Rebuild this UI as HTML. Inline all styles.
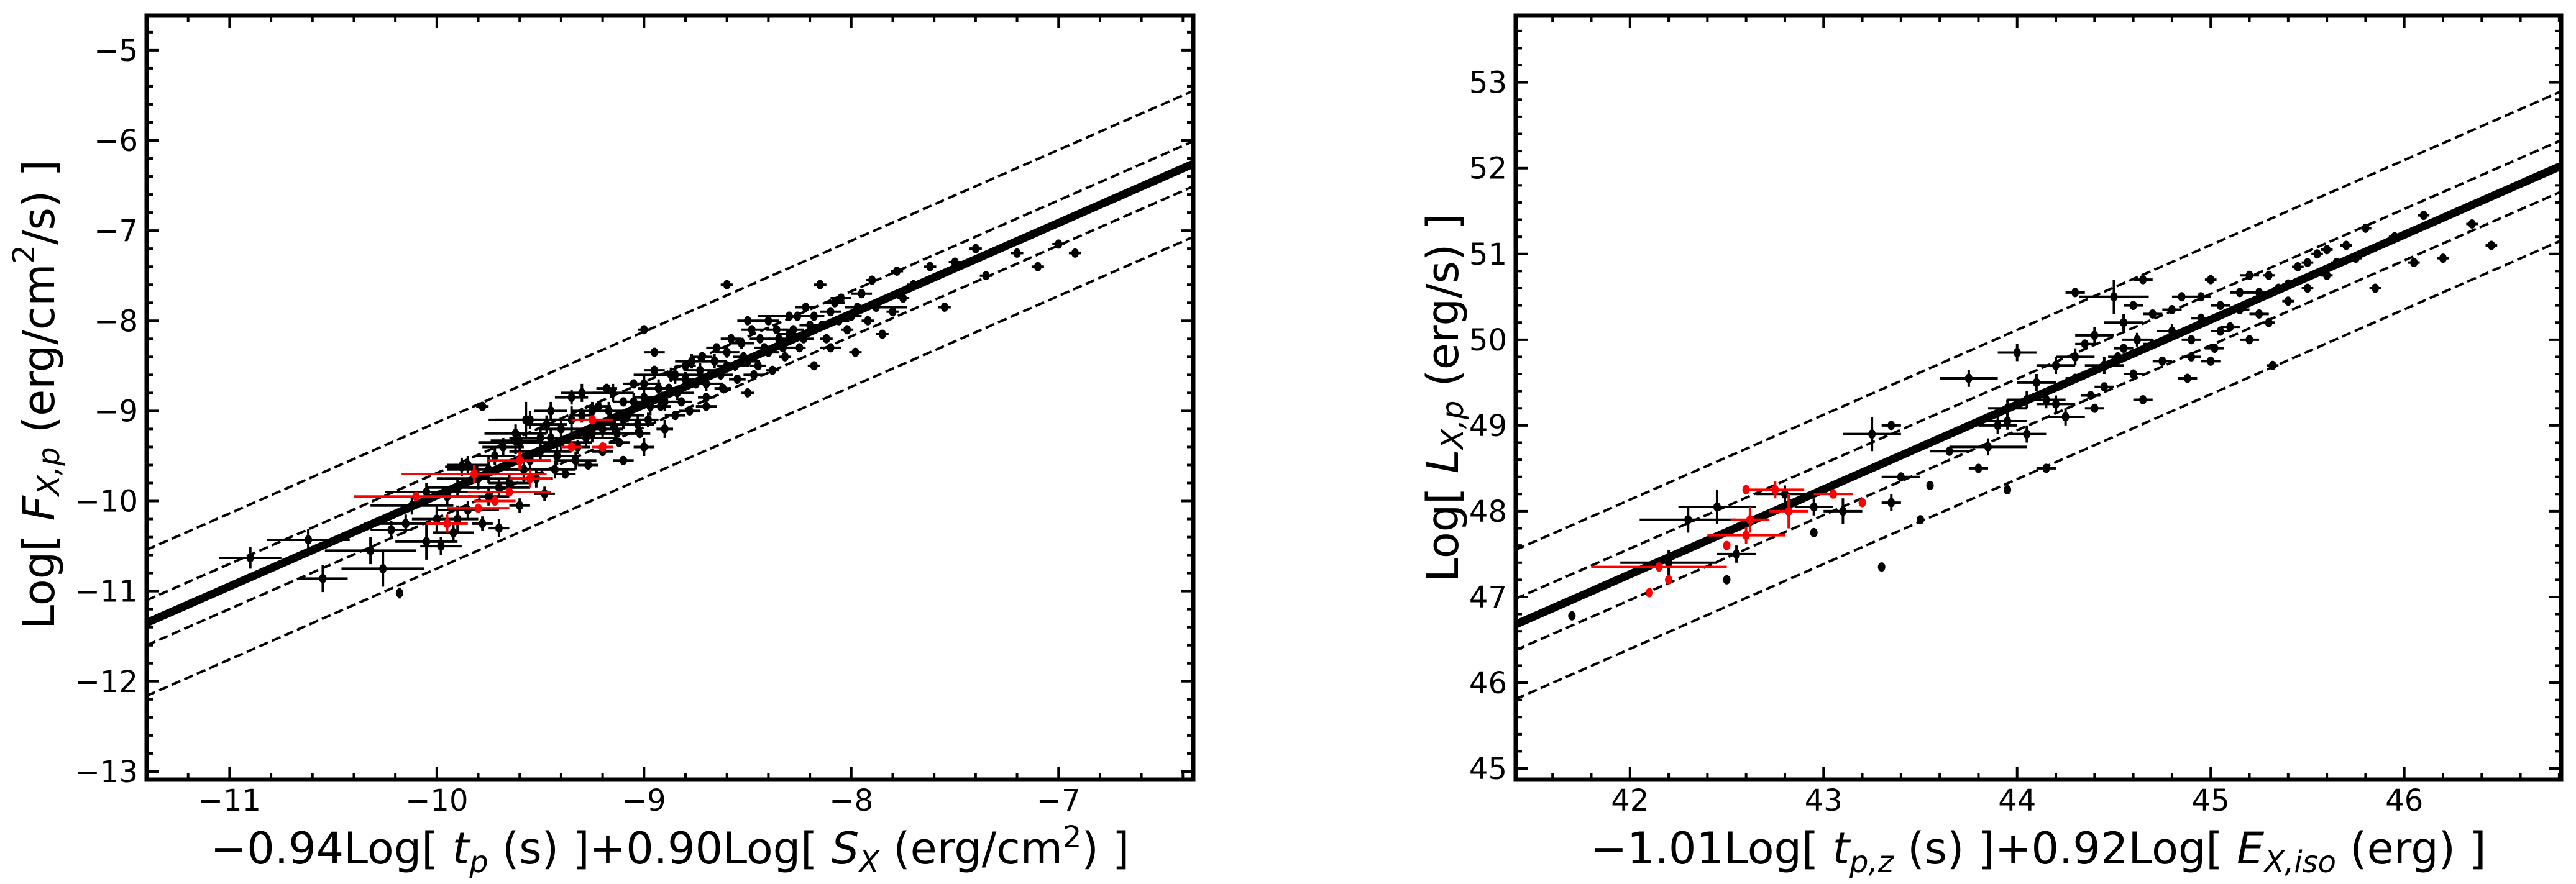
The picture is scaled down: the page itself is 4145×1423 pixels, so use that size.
<!DOCTYPE html>
<html><head><meta charset="utf-8"><style>
html,body{margin:0;padding:0;background:#fff;width:4145px;height:1423px;overflow:hidden}
svg{display:block}
text{font-family:"DejaVu Sans","Liberation Sans",sans-serif;fill:#000}
</style></head><body>
<svg id="fig" width="4145" height="1423" viewBox="0 0 4145 1423" xmlns="http://www.w3.org/2000/svg">
<g id="p1"></g>
<g id="p2"></g>
<text x="68" y="635" font-size="70" text-anchor="middle" transform="rotate(-90 68 635)" dominant-baseline="middle">Log[ <tspan font-style="italic">F</tspan><tspan font-style="italic" font-size="48" dy="14">X,p</tspan><tspan dy="-14"> (erg/cm</tspan><tspan font-size="48" dy="-26">2</tspan><tspan dy="26">/s) ]</tspan></text>
<text x="1078" y="1390" font-size="70" text-anchor="middle">−0.94Log[ <tspan font-style="italic">t</tspan><tspan font-style="italic" font-size="48" dy="14">p</tspan><tspan dy="-14"> (s) ]+0.90Log[ </tspan><tspan font-style="italic">S</tspan><tspan font-style="italic" font-size="48" dy="14">X</tspan><tspan dy="-14"> (erg/cm</tspan><tspan font-size="48" dy="-26">2</tspan><tspan dy="26">) ]</tspan></text>
<text x="2327" y="640" font-size="70" text-anchor="middle" transform="rotate(-90 2327 640)" dominant-baseline="middle">Log[ <tspan font-style="italic">L</tspan><tspan font-style="italic" font-size="48" dy="14">X,p</tspan><tspan dy="-14"> (erg/s) ]</tspan></text>
<text x="3280" y="1390" font-size="70" text-anchor="middle">−1.01Log[ <tspan font-style="italic">t</tspan><tspan font-style="italic" font-size="48" dy="14">p,z</tspan><tspan dy="-14"> (s) ]+0.92Log[ </tspan><tspan font-style="italic">E</tspan><tspan font-style="italic" font-size="48" dy="14">X,iso</tspan><tspan dy="-14"> (erg) ]</tspan></text>
</svg>
<script>
// ---- Left panel data ----
const leftBlackX=[-10.9,-10.62,-10.55,-10.32,-10.26,-10.18,-10.22,-10.12,-10.05,-10.0,-9.95,-9.92,-9.88,-9.85,-9.8,-9.78,-9.75,-9.72,-9.7,-9.65,-9.62,-9.6,-9.57,-9.55,-9.52,-9.5,-9.48,-9.45,-9.42,-9.4,-9.38,-9.35,-9.32,-9.3,-9.27,-9.25,-9.22,-9.2,-9.18,-9.15,-9.12,-9.1,-9.08,-9.05,-9.02,-9.0,-8.98,-8.95,-8.92,-8.9,-8.88,-8.85,-8.82,-8.8,-8.78,-8.75,-8.72,-8.7,-8.68,-8.65,-8.62,-8.6,-8.58,-8.55,-8.52,-8.5,-8.48,-8.45,-8.42,-8.4,-8.38,-8.35,-8.32,-8.3,-8.28,-8.25,-8.22,-8.2,-8.18,-8.15,-8.12,-8.1,-8.05,-8.02,-8.0,-7.98,-7.95,-7.92,-7.9,-7.88,-7.85,-7.8,-7.78,-7.75,-7.7,-7.62,-7.55,-7.5,-7.4,-7.35,-7.2,-7.1,-7.0,-6.92,-8.6,-9.78,-9.0,
-9.9,-9.85,-9.75,-9.7,-9.68,-9.6,-9.58,-9.5,-9.47,-9.43,-9.4,-9.35,-9.33,-9.28,-9.25,-9.2,-9.17,-9.13,-9.1,-9.05,-9.03,-9.0,-8.97,-8.93,-8.9,-8.87,-8.84,-8.8,-8.77,-8.73,-8.7,-8.66,-8.63,-8.6,-8.56,-8.53,-8.5,-8.47,-8.44,-8.4,-8.36,-8.33,-8.3,-8.26,-8.23,-8.18,-8.14,-8.08,-8.06,-7.97,-9.55,-9.45,-9.62,-9.3,-9.15,-9.0,-8.85,-8.7,-9.1,-10.05,-10.15,-9.98,-9.9,-8.95,-8.5,-8.1];
const leftBlackY=[-10.63,-10.43,-10.86,-10.55,-10.75,-11.02,-10.32,-10.05,-10.45,-10.2,-9.95,-10.35,-9.62,-10.1,-9.75,-10.25,-9.95,-9.5,-10.3,-9.8,-9.33,-10.05,-9.1,-9.55,-9.75,-9.3,-9.92,-9.0,-9.5,-9.2,-9.7,-8.85,-9.4,-9.05,-9.6,-9.25,-8.95,-9.45,-8.75,-9.15,-9.35,-8.9,-9.05,-8.7,-9.25,-8.85,-9.1,-8.55,-8.95,-9.2,-8.75,-8.6,-8.9,-8.5,-9.0,-8.7,-8.4,-8.85,-8.6,-8.3,-8.75,-8.5,-8.2,-8.65,-8.4,-8.8,-8.1,-8.5,-8.3,-8.0,-8.55,-8.2,-8.4,-7.95,-8.1,-8.3,-7.85,-8.05,-8.5,-7.6,-8.2,-7.9,-7.75,-8.1,-7.95,-8.35,-7.7,-8.0,-7.55,-7.85,-8.15,-7.9,-7.45,-7.75,-7.6,-7.4,-7.85,-7.35,-7.2,-7.5,-7.25,-7.4,-7.15,-7.25,-7.6,-8.95,-8.1,
-9.85,-9.6,-9.65,-9.85,-9.4,-9.35,-9.65,-9.45,-9.15,-9.65,-9.35,-9.1,-9.55,-9.3,-9.0,-9.2,-9.0,-9.25,-9.1,-8.9,-9.15,-8.7,-8.95,-8.75,-8.9,-8.6,-8.8,-8.65,-8.45,-8.55,-8.7,-8.45,-8.6,-8.35,-8.5,-8.25,-8.45,-8.6,-8.2,-8.35,-8.1,-8.3,-8.15,-7.95,-8.2,-7.95,-8.05,-7.8,-8.0,-7.85,-9.1,-9.3,-9.25,-8.8,-8.8,-9.4,-9.05,-8.95,-9.55,-9.9,-10.25,-10.5,-10.2,-8.35,-8.0,-8.3];
const leftBlackXErr=[.15,.2,.12,.22,.2,0,.1,.2,.15,.12,.12,.1,.08,.15,.2,.05,.1,.1,.05,.1,.12,.05,.15,.1,.08,.1,.05,.08,.1,.1,.05,.08,.06,.06,.05,.1,.06,.05,.05,.08,.05,.05,.08,.05,.05,.05,.05,.05,.05,.04,.05,.2,.05,.05,.05,.05,.05,.04,.05,.05,.04,.05,.05,.04,.05,.03,.05,.04,.05,.05,.03,.05,.03,.15,.05,.03,.05,.05,.03,.03,.03,.05,.05,.03,.05,.03,.05,.03,.03,.15,.03,.03,.03,.03,.03,.03,.03,.03,.03,.03,.03,.03,.03,.03,.03,.03,.03,
.15,.1,.2,.15,.1,.2,.15,.15,.1,.1,.15,.1,.1,.15,.1,.1,.1,.1,.1,.1,.08,.08,.08,.1,.1,.08,.08,.08,.08,.08,.08,.06,.06,.06,.06,.06,.06,.05,.05,.05,.05,.05,.05,.05,.05,.05,.05,.05,.05,.05,.2,.2,.15,.1,.1,.05,.05,.05,.05,.2,.2,.1,.1,.05,.05,.05];
const leftBlackYErr=[.12,.12,.15,.15,.2,.06,.1,.1,.2,.15,.1,.1,.1,.1,.12,.08,.1,.1,.1,.1,.15,.08,.2,.1,.1,.1,.08,.1,.1,.1,.05,.08,.08,.08,.05,.1,.06,.05,.05,.1,.05,.05,.08,.05,.05,.05,.08,.05,.05,.1,.05,.1,.05,.05,.05,.05,.05,.04,.05,.05,.04,.05,.05,.04,.05,.03,.05,.04,.05,.05,.03,.05,.03,.05,.05,.03,.05,.05,.03,.03,.03,.05,.05,.03,.05,.03,.05,.03,.03,.05,.03,.03,.03,.03,.03,.03,.03,.03,.03,.03,.03,.03,.03,.03,.03,.05,.03,
.1,.1,.15,.1,.1,.1,.15,.1,.1,.1,.1,.15,.1,.1,.1,.1,.1,.1,.1,.1,.1,.1,.1,.1,.1,.08,.08,.08,.08,.08,.08,.08,.06,.06,.06,.06,.06,.05,.05,.05,.05,.05,.05,.05,.05,.05,.05,.05,.05,.05,.1,.1,.1,.1,.1,.1,.05,.05,.05,.1,.1,.1,.15,.05,.05,.05];
const leftRedX=[-10.1,-9.95,-9.82,-9.8,-9.65,-9.6,-9.55,-9.35,-9.2,-9.25,-9.72];
const leftRedY=[-9.95,-10.25,-9.7,-10.08,-9.9,-9.55,-9.75,-9.4,-9.4,-9.1,-10.0];
const leftRedXErr=[.3,.1,.35,.15,.2,.15,.1,.05,.05,.1,.1];
const leftRedYErr=[.05,.1,.1,.05,.05,.1,.1,.05,.05,.05,.05];
const leftFitSlope=1.008, leftFitIntercept=0.141;
const leftBandOffsets=[0.81,0.25,-0.25,-0.81];
const leftXTicks=[-11,-10,-9,-8,-7];
const leftYTicks=[-13,-12,-11,-10,-9,-8,-7,-6,-5];
// ---- Right panel data ----
const rightBlackX=[41.7,42.2,42.3,42.45,42.5,42.55,42.8,42.95,42.95,43.1,43.25,43.3,43.35,43.4,43.5,43.65,43.75,43.8,43.85,43.9,43.95,43.95,44.0,44.05,44.1,44.15,44.15,44.2,44.25,44.3,44.35,44.38,44.4,44.45,44.5,44.52,44.55,44.6,44.62,44.65,44.7,44.75,44.8,44.85,44.88,44.9,44.95,45.0,45.02,45.05,45.1,45.15,45.2,45.25,45.3,45.32,45.35,45.4,45.45,45.5,45.55,45.6,45.65,45.7,45.75,45.8,45.85,45.95,46.05,46.1,46.2,46.35,46.45,44.3,44.65,45.2,43.35,43.55,
44.2,44.3,44.45,44.55,44.7,44.8,44.95,45.05,45.15,45.25,45.4,45.0,44.9,44.4,44.6,45.3,45.5,45.6,44.05,43.95];
const rightBlackY=[46.78,47.4,47.9,48.05,47.2,47.5,48.2,47.75,48.05,48.0,48.9,47.35,48.1,48.4,47.9,48.7,49.55,48.5,48.75,49.0,49.2,48.25,49.85,48.9,49.5,49.3,48.5,49.7,49.1,49.55,49.95,49.35,50.05,49.45,50.5,49.8,50.2,49.6,50.0,49.3,50.3,49.75,50.1,50.5,49.55,50.0,50.25,50.7,49.9,50.4,50.15,50.55,50.0,50.3,50.75,49.7,50.6,50.45,50.85,50.6,51.0,50.75,50.9,51.1,50.95,51.3,50.6,51.2,50.9,51.45,50.95,51.35,51.1,50.55,50.7,50.75,49.0,48.3,
49.25,49.8,49.7,49.9,49.95,50.35,50.5,50.1,50.35,50.55,50.65,49.75,49.8,49.2,50.4,50.2,50.9,51.05,49.3,49.05];
const rightBlackXErr=[0,.25,.25,.2,0,.1,.15,0,.1,.1,.15,0,.05,.1,0,.1,.15,.05,.2,.1,.1,0,.1,.1,.1,.1,.05,.1,.1,.05,.05,.05,.1,.05,.18,.05,.1,.05,.08,.05,.05,.05,.08,.05,.05,.05,.05,.03,.05,.05,.05,.05,.05,.05,.03,.03,.03,.03,.03,.03,.03,.03,.03,.03,.03,.03,.03,.03,.03,.03,.03,.03,.03,.05,.05,.05,.05,0,
.1,.1,.1,.05,.05,.05,.05,.05,.05,.05,.03,.05,.05,.05,.05,.03,.03,.03,.1,.1];
const rightBlackYErr=[0,.15,.15,.2,.05,.1,.1,.05,.1,.15,.2,.05,.1,.05,.05,.05,.1,.05,.1,.1,.1,.05,.1,.1,.1,.1,.05,.1,.1,.05,.05,.05,.1,.05,.2,.05,.1,.05,.08,.05,.05,.05,.08,.05,.05,.05,.05,.03,.05,.05,.05,.05,.05,.05,.03,.03,.03,.03,.03,.03,.03,.03,.03,.03,.03,.03,.03,.03,.03,.03,.03,.03,.03,.05,.05,.05,.05,.05,
.1,.1,.1,.05,.05,.05,.05,.05,.05,.05,.03,.05,.05,.05,.05,.03,.03,.03,.1,.1];
const rightRedX=[42.15,42.1,42.2,42.5,42.62,42.6,42.75,42.6,43.05,43.2,42.82];
const rightRedY=[47.35,47.05,47.2,47.6,47.9,47.72,48.25,48.25,48.2,48.1,48.0];
const rightRedXErr=[.35,0,0,0,.1,.2,.15,0,.1,0,.1];
const rightRedYErr=[.05,.03,.05,.05,.15,.1,.1,.03,.05,.05,.2];
const rightFitSlope=0.99, rightFitIntercept=46.68-0.99*41.41;
const rightBandOffsets=[0.87,0.3,-0.3,-0.87];
const rightXTicks=[42,43,44,45,46];
const rightYTicks=[45,46,47,48,49,50,51,52,53];

const NS="http://www.w3.org/2000/svg";
function mk(tag,attrs,parent){const e=document.createElementNS(NS,tag);for(const k in attrs)e.setAttribute(k,attrs[k]);parent.appendChild(e);return e;}

function drawPanel(g,box,xr,yr,xt,yt,slope,icpt,offs,series,pfx){
  const sx=v=>box.x0+(v-xr[0])/(xr[1]-xr[0])*(box.x1-box.x0);
  const sy=v=>box.y1-(v-yr[0])/(yr[1]-yr[0])*(box.y1-box.y0);
  const clip=mk('clipPath',{id:pfx+'clip'},g);
  mk('rect',{x:box.x0,y:box.y0,width:box.x1-box.x0,height:box.y1-box.y0},clip);
  const plot=mk('g',{'clip-path':'url(#'+pfx+'clip)'},g);
  const fit=mk('line',{x1:sx(xr[0]),y1:sy(slope*xr[0]+icpt),x2:sx(xr[1]),y2:sy(slope*xr[1]+icpt),stroke:'#000','stroke-width':13},plot);
  
  
  offs.forEach((o,i)=>{
    const l=mk('line',{x1:sx(xr[0]),y1:sy(slope*xr[0]+icpt+o),x2:sx(xr[1]),y2:sy(slope*xr[1]+icpt+o),stroke:'#000','stroke-width':4,'stroke-dasharray':'15 7'},plot);
    
    
  });
  series.forEach(s=>{
    for(let i=0;i<s.x.length;i++){
      const cx=sx(s.x[i]),cy=sy(s.y[i]);
      const p=mk('g',{},plot);
      
      
      if(s.xe[i]>0) mk('line',{x1:sx(s.x[i]-s.xe[i]),y1:cy,x2:sx(s.x[i]+s.xe[i]),y2:cy,stroke:s.c,'stroke-width':4},p);
      if(s.ye[i]>0) mk('line',{x1:cx,y1:sy(s.y[i]-s.ye[i]),x2:cx,y2:sy(s.y[i]+s.ye[i]),stroke:s.c,'stroke-width':4},p);
      mk('ellipse',{cx:cx,cy:cy,rx:6,ry:7.5,fill:s.c},p);
    }
  });
  const fr=mk('rect',{x:box.x0,y:box.y0,width:box.x1-box.x0,height:box.y1-box.y0,fill:'none',stroke:'#000','stroke-width':7},g);
  
  
  for(let v=Math.ceil(xr[0]*5)/5; v<=xr[1]+1e-9; v=Math.round((v+0.2)*100)/100){
    const major=Math.abs(v-Math.round(v))<1e-6, L=major?20:10, X=sx(v);
    mk('line',{x1:X,y1:box.y1,x2:X,y2:box.y1-L,stroke:'#000','stroke-width':4},g);
    mk('line',{x1:X,y1:box.y0,x2:X,y2:box.y0+L,stroke:'#000','stroke-width':4},g);
  }
  for(let v=Math.ceil(yr[0]*5)/5; v<=yr[1]+1e-9; v=Math.round((v+0.2)*100)/100){
    const major=Math.abs(v-Math.round(v))<1e-6, L=major?20:10, Y=sy(v);
    mk('line',{x1:box.x0,y1:Y,x2:box.x0+L,y2:Y,stroke:'#000','stroke-width':4},g);
    mk('line',{x1:box.x1,y1:Y,x2:box.x1-L,y2:Y,stroke:'#000','stroke-width':4},g);
  }
  xt.forEach(v=>{
    const t=mk('text',{x:sx(v),y:box.y1+50,'font-size':48,'text-anchor':'middle'},g);
    t.textContent=(v<0?'−':'')+Math.abs(v);
    
    
  });
  yt.forEach(v=>{
    const t=mk('text',{x:box.x0-14,y:sy(v)+17,'font-size':48,'text-anchor':'end'},g);
    t.textContent=(v<0?'−':'')+Math.abs(v);
    
    
  });
}
drawPanel(document.getElementById('p1'),{x0:236,x1:1920,y0:25,y1:1255},[-11.40,-6.35],[-13.09,-4.615],leftXTicks,leftYTicks,leftFitSlope,leftFitIntercept,leftBandOffsets,
 [{name:'black',c:'#000',x:leftBlackX,y:leftBlackY,xe:leftBlackXErr,ye:leftBlackYErr},{name:'red',c:'#f00',x:leftRedX,y:leftRedY,xe:leftRedXErr,ye:leftRedYErr}],'a');
drawPanel(document.getElementById('p2'),{x0:2439,x1:4121,y0:25,y1:1255},[41.41,46.81],[44.87,53.78],rightXTicks,rightYTicks,rightFitSlope,rightFitIntercept,rightBandOffsets,
 [{name:'black',c:'#000',x:rightBlackX,y:rightBlackY,xe:rightBlackXErr,ye:rightBlackYErr},{name:'red',c:'#f00',x:rightRedX,y:rightRedY,xe:rightRedXErr,ye:rightRedYErr}],'b');
</script>
</body></html>
